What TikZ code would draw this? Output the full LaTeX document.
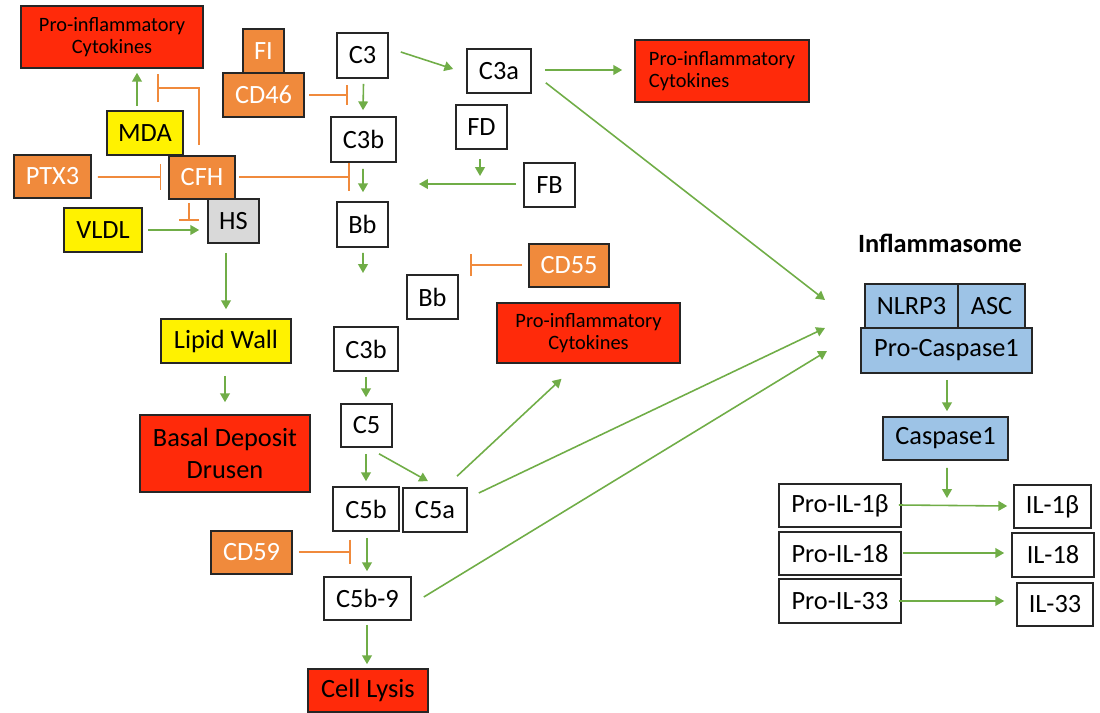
\documentclass[tikz,border=0pt]{standalone}
\usepackage{fontspec}
\setmainfont{Carlito}
\usetikzlibrary{arrows.meta,calc}
\definecolor{redF}{HTML}{FF2A0A}
\definecolor{orF}{HTML}{F08A3C}
\definecolor{blF}{HTML}{9DC3E6}
\definecolor{grF}{HTML}{D9D9D9}
\definecolor{arrG}{HTML}{70AD47}
\definecolor{inhO}{HTML}{F08A3C}
\newcommand\B[7]{\node[#2, minimum width={(#5-#3)*0.02cm}, minimum height={(#6-#4)*0.02cm}] (#1) at ({(#3+#5)/2},{(#4+#6)/2}) {#7};}
\tikzset{
  base/.style={draw=black!85, line width=0.9pt, inner sep=0pt, font=\fontsize{15}{18}\selectfont},
  wbox/.style={base, fill=white},
  obox/.style={base, fill=orF, text=white},
  ybox/.style={base, fill=yellow},
  rbox/.style={base, fill=redF},
  rsbox/.style={base, fill=redF, font=\fontsize{11.6}{12.8}\selectfont},
  gbox/.style={base, fill=grF},
  bbox/.style={base, fill=blF},
  garr/.style={draw=arrG, line width=0.9pt, -{Triangle[length=5pt,width=5.5pt]}},
  inh/.style={draw=inhO, line width=0.9pt, -{Bar[width=#1]}},
  inh/.default=14pt,
}
\begin{document}
\begin{tikzpicture}[x=0.02cm,y=-0.02cm]
\useasboundingbox (0,0) rectangle (1100,713);
% nodes
\B{pia}{rsbox, align=center}{21}{6}{203}{68}{Pro-inflammatory\\Cytokines}
\B{fi}{obox}{243}{29}{284}{73}{FI}
\B{cd46}{obox}{223}{73}{304}{117}{CD46}
\B{c3}{wbox}{337}{33}{388}{78}{C3}
\B{c3b}{wbox}{331}{117}{396}{162}{C3b}
\B{mda}{ybox}{107}{111}{183}{155}{MDA}
\B{ptx}{obox}{14}{155}{91}{198}{PTX3}
\B{cfh}{obox}{169}{156}{235}{199}{CFH}
\B{hs}{gbox}{208}{199}{259}{243}{HS}
\B{vldl}{ybox}{64}{208}{142}{252}{VLDL}
\B{bba}{wbox}{337}{202}{388}{247}{Bb}
\B{c3a}{wbox}{467}{49}{531}{93}{C3a}
\B{pib}{rsbox, align=left}{635}{40}{809}{102}{Pro-inflammatory\\Cytokines}
\B{fd}{wbox}{456}{105}{507}{149}{FD}
\B{fb}{wbox}{524}{163}{575}{207}{FB}
\B{cd55}{obox}{529}{244}{609}{287}{CD55}
\B{bbb}{wbox}{407}{275}{458}{319}{Bb}
\B{pic}{rsbox, align=center}{497}{303}{680}{363}{Pro-inflammatory\\Cytokines}
\B{lip}{ybox}{161}{319}{291}{363}{Lipid Wall}
\B{bas}{rbox, align=center}{140}{415}{310}{492}{Basal Deposit\\Drusen}
\B{c3bb}{wbox}{334}{327}{398}{371}{C3b}
\B{c5}{wbox}{341}{404}{392}{447}{C5}
\B{c5b}{wbox}{333}{487}{399}{531}{C5b}
\B{c5a}{wbox}{403}{488}{467}{532}{C5a}
\B{cd59}{obox}{211}{531}{292}{574}{CD59}
\B{c5b9}{wbox}{324}{577}{411}{620}{C5b-9}
\B{lys}{rbox}{308}{669}{428}{712}{Cell Lysis}
\node[font=\fontsize{15}{18}\selectfont\bfseries] (inft) at (940,243) {Inflammasome};
\B{nlrp}{bbox}{865}{284}{958}{328}{NLRP3}
\B{asc}{bbox}{958}{284}{1025}{328}{ASC}
\B{pcasp}{bbox}{861}{328}{1032}{373}{Pro-Caspase1}
\B{casp}{bbox}{883}{417}{1008}{460}{Caspase1}
\B{p1b}{wbox}{779}{484}{901}{527}{Pro-IL-1β}
\B{i1b}{wbox}{1014}{485}{1091}{528}{IL-1β}
\B{p18}{wbox}{779}{532}{901}{575}{Pro-IL-18}
\B{i18}{wbox}{1012}{533}{1094}{577}{IL-18}
\B{p33}{wbox}{779}{579}{901}{623}{Pro-IL-33}
\B{i33}{wbox}{1017}{583}{1093}{626}{IL-33}
% free ends
\coordinate (e46) at (348,95);
\coordinate (ecfh) at (350,177);
\coordinate (epi) at (157,88);
\coordinate (ehs) at (189,221);
\coordinate (efd) at (480,176);
\coordinate (efb) at (419,184);
\coordinate (ebb) at (363,273);
\coordinate (e55) at (470,265);
\coordinate (e59) at (351,552);
\coordinate (ecasp) at (947,498);
\coordinate (inf1) at (825,300);
\coordinate (inf2) at (825,328);
\coordinate (inf3) at (827,351);
% green arrows
\draw[garr] ($(mda.north)+(-8,-4)$) -- ($(pia.south)+(25,4)$);
\draw[garr] ($(c3.south)+(1,5)$) -- ($(c3b.north)+(-0.5,-6)$);
\draw[garr] ($(c3b.south)+(-0.5,6)$) -- ($(bba.north)+(0.5,-9)$);
\draw[garr] ($(vldl.east)+(5,0)$) -- ($(vldl.east -| hs.west)+(-8,0)$);
\draw[garr] ($(c3.east)+(12,-3.5)$) -- ($(c3a.west)+(-13,-2)$);
\draw[garr] ($(c3a.east)+(13,-1)$) -- ($(pib.west)+(-12,-1)$);
\draw[garr] ($(c3a.south east)+(14,-11)$) -- (inf1);
\draw[garr] ($(fd.south)+(-1.5,9)$) -- (efd);
\draw[garr] ($(fb.west)+(-7,-1)$) -- (efb);
\draw[garr] ($(bba.south)+(0.5,5)$) -- (ebb);
\draw[garr] ($(hs.south -| lip.north)+(0,9)$) -- ($(lip.north)+(0,-9)$);
\draw[garr] ($(lip.south)+(-1,12)$) -- ($(bas.north)+(0,-12)$);
\draw[garr] ($(c3bb.south)+(0,5)$) -- ($(c5.north)+(-0.5,-6)$);
\draw[garr] ($(c5.south)+(-0.5,6)$) -- ($(c5b.north)+(0,-5)$);
\draw[garr] ($(c5.south)+(12.5,6)$) -- ($(c5a.north)+(-7,-6)$);
\draw[garr] ($(c5a.north)+(22,-11)$) -- ($(pic.south)+(-27,15)$);
\draw[garr] ($(c5a.east)+(11,-17)$) -- (inf2);
\draw[garr] ($(c5b.south)+(1,6)$) -- ($(c5b9.north)+(-0.5,-5)$);
\draw[garr] ($(c5b9.east)+(12,-1.5)$) -- (inf3);
\draw[garr] ($(c5b9.south)+(-0.5,4)$) -- ($(lys.north)+(-1,-4)$);
\draw[garr] ($(pcasp.south)+(0.5,6)$) -- ($(casp.north)+(1.5,-5)$);
\draw[garr] ($(casp.south)+(1.5,7)$) -- (ecasp);
\draw[garr] ($(p1b.east)+(-3,-0.5)$) -- ($(i1b.west)+(-6,-0.5)$);
\draw[garr] ($(p18.east)+(1,-0.5)$) -- ($(i18.west)+(-7,-2)$);
\draw[garr] ($(p33.east)+(-3,0)$) -- ($(i33.west)+(-12,-3.5)$);
% inhibitions
\draw[inh=16pt] ($(cfh.north)+(-3,-10)$) |- (epi);
\draw[inh=11pt] ($(cd46.east)+(4,0)$) -- (e46);
\draw[inh=15pt] ($(ptx.east)+(6,0.5)$) -- ($(cfh.west)+(-7,-0.5)$);
\draw[inh=16pt] ($(cfh.east)+(3,-0.5)$) -- (ecfh);
\draw[inh=11pt] ($(cfh.south)+(-13,3)$) -- (ehs);
\draw[inh=13pt] ($(cd55.west)+(-6,-0.5)$) -- (e55);
\draw[inh=14pt] ($(cd59.east)+(6,-0.5)$) -- (e59);
\end{tikzpicture}
\end{document}
